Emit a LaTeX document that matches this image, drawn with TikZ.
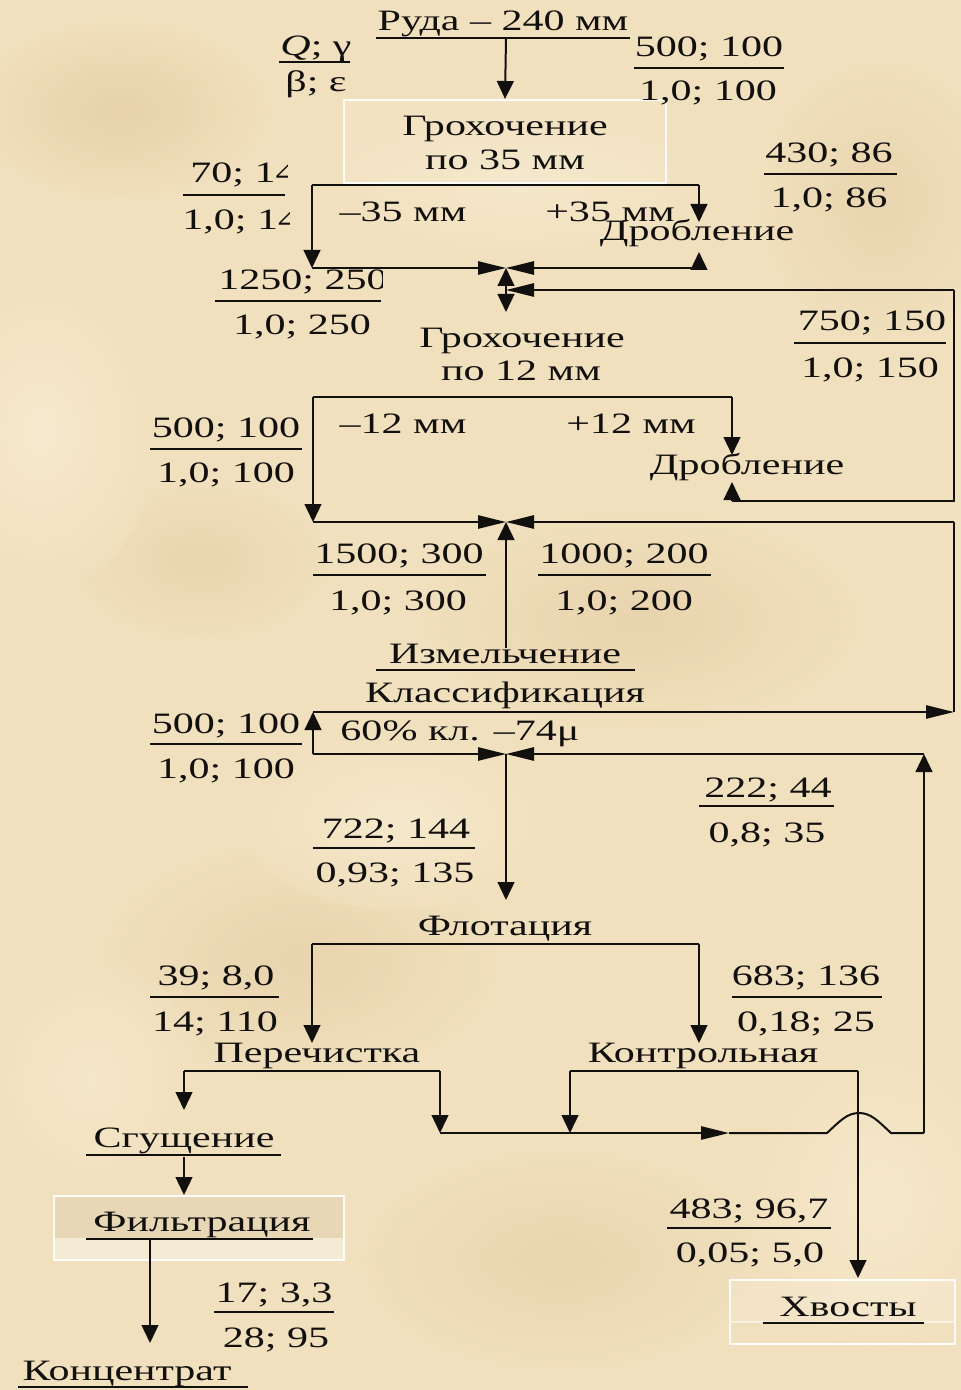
\documentclass[tikz,border=0pt]{standalone}
\usepackage{fontspec}
\setmainfont{Liberation Serif}[FakeStretch=1.42]
\usetikzlibrary{arrows.meta}
\definecolor{paper}{RGB}{241,224,189}
\definecolor{paperdark}{RGB}{226,204,163}
\definecolor{paperlight}{RGB}{248,236,210}
\definecolor{ink}{RGB}{18,16,14}
\begin{document}
\begin{tikzpicture}[x=0.5pt,y=-0.5pt,
  every node/.style={inner sep=0pt, text=ink, font=\fontsize{14.8pt}{17pt}\selectfont},
  lbl/.style={anchor=base},
  lblw/.style={anchor=base west},
  ghost/.style={anchor=base west, text opacity=0},
  flow/.style={line width=1pt, draw=ink},
  tipH/.style={-{Triangle[length=14pt,width=6.6pt]}},
  tipV/.style={-{Triangle[length=9pt,width=8.4pt]}},
  rule/.style={line width=0.9pt, draw=ink},
  frame/.style={draw=white, line width=1pt, draw opacity=0.9},
]
% parchment background
\useasboundingbox (0,0) rectangle (961,1390);
\fill[paper] (0,0) rectangle (961,1390);
\begin{scope}
\clip (0,0) rectangle (961,1390);
\shade[inner color=paperdark, outer color=paper, opacity=0.7] (120,110) ellipse (150 and 90);
\shade[inner color=paperdark, outer color=paper, opacity=0.6] (640,620) ellipse (220 and 110);
\shade[inner color=paperdark, outer color=paper, opacity=0.6] (300,960) ellipse (200 and 120);
\shade[inner color=paperdark, outer color=paper, opacity=0.5] (560,1260) ellipse (200 and 110);
\shade[inner color=paperdark, outer color=paper, opacity=0.5] (880,200) ellipse (120 and 140);
\shade[inner color=paperdark, outer color=paper, opacity=0.5] (200,560) ellipse (130 and 80);
\shade[inner color=paperlight, outer color=paper, opacity=0.8] (40,430) ellipse (120 and 160);
\shade[inner color=paperlight, outer color=paper, opacity=0.7] (400,820) ellipse (160 and 90);
\shade[inner color=paperlight, outer color=paper, opacity=0.7] (880,1200) ellipse (140 and 170);
\shade[inner color=paperlight, outer color=paper, opacity=0.6] (520,190) ellipse (220 and 80);
\shade[inner color=paperlight, outer color=paper, opacity=0.6] (90,1080) ellipse (110 and 120);
\end{scope}

% ---------- boxes ----------
\node[frame, fill=white, fill opacity=0.08, minimum width=161pt, minimum height=41.5pt] (scr35) at (505,141.5) {};
\fill[black, opacity=0.04] (54,1196) rectangle (344,1238);
\fill[white, opacity=0.35] (54,1238) rectangle (344,1260);
\node[frame, minimum width=145pt, minimum height=32pt] (filtbox) at (199,1228) {};
\fill[white, opacity=0.15] (730,1280) rectangle (955,1322);
\draw[white, opacity=0.5, line width=0.6pt] (730,1322) -- (955,1322);
\node[frame, minimum width=112.5pt, minimum height=32pt] (tailbox) at (842.5,1312) {};

% ---------- texts ----------
\node[lbl] (ore) at (503,31) {Руда – 240 мм};
\draw[rule] (376,38) -- (630,38);
\node[lbl] (legQ) at (316,56) {\textit{Q}; γ};
\draw[rule] (279,62) -- (350,62);
\node[lbl] (legB) at (316,92) {β; ε};

\node[lbl] (f1a) at (709,57) {500; 100};
\draw[rule] (634,68) -- (784,68);
\node[lbl] (f1b) at (708,101) {1,0; 100};

\node[lbl] (s35a) at (505,136) {Грохочение};
\node[lbl] (s35b) at (505,170) {по 35 мм};
\node[lbl] (m35) at (403,222) {–35 мм};
\node[lbl] (p35) at (610,222) {+35 мм};
\node[lbl] (cr1) at (697,241) {Дробление};

\node[lbl] (f2a) at (829,163) {430; 86};
\draw[rule] (764,174) -- (897,174);
\node[lbl] (f2b) at (829,208) {1,0; 86};

% labels cut off through their last digit
\path node[ghost] (f3a) at (190,183) {70; 14};
\begin{scope}
\clip ([shift={(-10,-10)}]f3a.north west) rectangle ([xshift=-5pt]f3a.south east);
\node[lblw] (f3text) at (190,183) {70; 14};
\end{scope}
\path node[ghost] (f3b) at (182,230) {1,0; 14};
\begin{scope}
\clip ([shift={(-10,-10)}]f3b.north west) rectangle ([xshift=-5pt]f3b.south east);
\node[lblw] (f3btext) at (182,230) {1,0; 14};
\end{scope}
\draw[rule] (183,195) -- (285,195);

\path node[ghost] (f4a) at (218,290) {1250; 250};
\begin{scope}
\clip ([shift={(-10,-10)}]f4a.north west) rectangle ([xshift=-3pt]f4a.south east);
\node[lblw] (f4text) at (218,290) {1250; 250};
\end{scope}
\draw[rule] (215,301) -- (381,301);
\node[lbl] (f4b) at (302,335) {1,0; 250};

\node[lbl] (s12a) at (522,347) {Грохочение};
\node[lbl] (s12b) at (521,380) {по 12 мм};
\node[lbl] (f5a) at (872,330) {750; 150};
\draw[rule] (794,343) -- (946,343);
\node[lbl] (f5b) at (870,377) {1,0; 150};

\node[lbl] (m12) at (403,433) {–12 мм};
\node[lbl] (p12) at (631,433) {+12 мм};
\node[lbl] (cr2) at (747,474) {Дробление};
\node[lbl] (f6a) at (226,437) {500; 100};
\draw[rule] (150,449) -- (302,449);
\node[lbl] (f6b) at (226,482) {1,0; 100};

\node[lbl] (f7a) at (399,563) {1500; 300};
\draw[rule] (313,575) -- (486,575);
\node[lbl] (f7b) at (398,610) {1,0; 300};
\node[lbl] (f8a) at (624,563) {1000; 200};
\draw[rule] (538,575) -- (711,575);
\node[lbl] (f8b) at (624,610) {1,0; 200};

\node[lbl] (grind) at (505,663) {Измельчение};
\draw[rule] (376,670) -- (635,670);
\node[lbl] (clf) at (505,702) {Классификация};
\node[lbl] (clfb) at (460,740) {60\% кл. –74μ};
\node[lbl] (f9a) at (226,733) {500; 100};
\draw[rule] (150,744) -- (302,744);
\node[lbl] (f9b) at (226,778) {1,0; 100};

\node[lbl] (f10a) at (396,838) {722; 144};
\draw[rule] (313,848) -- (475,848);
\node[lbl] (f10b) at (395,882) {0,93; 135};
\node[lbl] (f11a) at (768,797) {222; 44};
\draw[rule] (699,806) -- (834,806);
\node[lbl] (f11b) at (767,842) {0,8; 35};

\node[lbl] (flot) at (505,935) {Флотация};
\node[lbl] (f12a) at (216,985) {39; 8,0};
\draw[rule] (150,997) -- (279,997);
\node[lbl] (f12b) at (215,1031) {14; 110};
\node[lbl] (f13a) at (806,985) {683; 136};
\draw[rule] (732,997) -- (882,997);
\node[lbl] (f13b) at (806,1031) {0,18; 25};

\node[lbl] (clean) at (317,1062) {Перечистка};
\node[lbl] (scav) at (703,1062) {Контрольная};

\node[lbl] (thick) at (184,1147) {Сгущение};
\draw[rule] (86,1155) -- (281,1155);
\node[lbl] (filt) at (202,1231) {Фильтрация};
\draw[rule] (86,1239) -- (313,1239);

\node[lbl] (f14a) at (274,1302) {17; 3,3};
\draw[rule] (214,1312) -- (334,1312);
\node[lbl] (f14b) at (276,1347) {28; 95};
\node[lbl] (conc) at (127,1380) {Концентрат};
\draw[rule] (18,1387) -- (248,1387);

\node[lbl] (f15a) at (749,1218) {483; 96,7};
\draw[rule] (667,1228) -- (831,1228);
\node[lbl] (f15b) at (750,1262) {0,05; 5,0};
\node[lbl] (tail) at (848,1316) {Хвосты};
\draw[rule] (763,1323) -- (924,1323);

% ---------- junction points ----------
\coordinate (oreU) at (506,38);
\coordinate (a1) at (312,185);  \coordinate (a2) at (699,185);
\coordinate (a3) at (312,268);  \coordinate (a4) at (699,268);
\coordinate (a5) at (699,222);  \coordinate (a6) at (699,252);
\coordinate (j1) at (506,268);  \coordinate (j1b) at (506,290);
\coordinate (j1c) at (506,312);
\coordinate (r1) at (954,290);  \coordinate (r2) at (954,501);
\coordinate (r3) at (732,501);  \coordinate (r4) at (732,482);
\coordinate (b1) at (313,397);  \coordinate (b2) at (732,397);
\coordinate (b3) at (313,522);  \coordinate (b4) at (732,455);
\coordinate (j2) at (506,522);  \coordinate (r5) at (954,522);
\coordinate (g1) at (506,648);
\coordinate (c1) at (313,712);  \coordinate (c2) at (954,712);
\coordinate (c3) at (313,754);
\coordinate (j3) at (506,754);  \coordinate (k1) at (924,754);
\coordinate (j3d) at (506,900);
\coordinate (d1) at (312,944);  \coordinate (d2) at (699,944);
\coordinate (d3) at (312,1043); \coordinate (d4) at (699,1043);
\coordinate (e1) at (184,1071); \coordinate (e2) at (440,1071);
\coordinate (e3) at (184,1110); \coordinate (e4) at (440,1133);
\coordinate (h1) at (570,1071); \coordinate (h2) at (858,1071);
\coordinate (h3) at (570,1133); \coordinate (h4) at (858,1278);
\coordinate (m1) at (729,1133); \coordinate (m2) at (827,1133);
\coordinate (m3) at (891,1133); \coordinate (k2) at (924,1133);
\coordinate (t1) at (184,1157); \coordinate (t2) at (184,1195);
\coordinate (q1) at (150,1239); \coordinate (q2) at (150,1343);

% ---------- flow lines ----------
\draw[flow, tipV] (oreU) -- (scr35.north);
% screening at 35 mm
\draw[flow] (a1) -- (a2);
\draw[flow, tipV] (a1) -- (a3);
\draw[flow, tipV] (a2) -- (a5);
\draw[flow, tipH] (a3) -- (j1);
\draw[flow, tipV] (a4) -- (a6);
\draw[flow, tipH] (a4) -- (j1);
\draw[flow, tipV] (j1b) -- (j1);
\draw[flow, tipV] (j1b) -- (j1c);
% crushed +12 mm returned to screening
\draw[flow, tipH] (r1) -- (j1b);
\draw[flow] (r1) -- (r2) -- (r3);
\draw[flow, tipV] (r3) -- (r4);
% screening at 12 mm
\draw[flow] (b1) -- (b2);
\draw[flow, tipV] (b1) -- (b3);
\draw[flow, tipV] (b2) -- (b4);
\draw[flow, tipH] (b3) -- (j2);
\draw[flow, tipH] (r5) -- (j2);
\draw[flow, tipV] (g1) -- (j2);
% classification
\draw[flow] (r5) -- (c2);
\draw[flow, tipH] (c1) -- (c2);
\draw[flow, tipV] (c3) -- (c1);
\draw[flow, tipH] (c3) -- (j3);
\draw[flow, tipH] (k1) -- (j3);
\draw[flow, tipV] (j3) -- (j3d);
% flotation
\draw[flow] (d1) -- (d2);
\draw[flow, tipV] (d1) -- (d3);
\draw[flow, tipV] (d2) -- (d4);
% cleaner
\draw[flow] (e1) -- (e2);
\draw[flow, tipV] (e1) -- (e3);
\draw[flow, tipV] (e2) -- (e4);
% scavenger
\draw[flow] (h1) -- (h2);
\draw[flow, tipV] (h1) -- (h3);
\draw[flow, tipV] (h2) -- (h4);
% middlings return with a bridge over the tailings line
\draw[flow, tipH] (e4) -- (m1);
\draw[flow] (m1) -- (m2) .. controls (840,1121) and (847,1113) .. (859,1113)
  .. controls (871,1113) and (878,1121) .. (m3) -- (k2);
\draw[flow, tipV] (k2) -- (k1);
% concentrate line
\draw[flow, tipV] (t1) -- (t2);
\draw[flow, tipV] (q1) -- (q2);
\end{tikzpicture}
\end{document}
